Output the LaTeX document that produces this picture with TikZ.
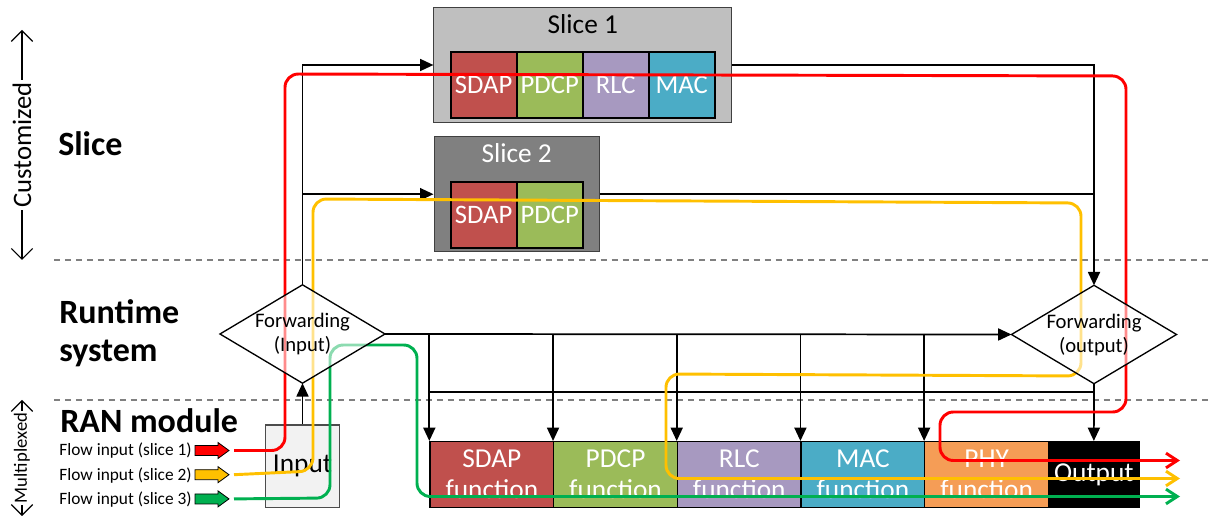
\documentclass[tikz,border=0pt]{standalone}
\usepackage{fontspec}
\setmainfont{Carlito}
\usetikzlibrary{arrows.meta,shapes.geometric}
\pgfdeclarelayer{back}
\pgfdeclarelayer{flows}
\pgfsetlayers{back,flows,main}
\definecolor{sdapred}{HTML}{C0504D}
\definecolor{pdcpgreen}{HTML}{9BBB59}
\definecolor{rlcpurple}{HTML}{A799C0}
\definecolor{macblue}{HTML}{4BACC6}
\definecolor{phyorange}{HTML}{F59D56}
\definecolor{flowred}{HTML}{FF0000}
\definecolor{floworange}{HTML}{FFC000}
\definecolor{flowgreen}{HTML}{00B050}

\begin{document}
\begin{tikzpicture}[x=0.75pt,y=-0.75pt,
  laylabel/.style={anchor=base west,inner sep=0pt,align=left,
    font=\fontsize{25.5}{28.5}\selectfont\bfseries},
  sideword/.style={rotate=90,fill=white,inner xsep=1.5pt,inner ysep=0pt},
  spanarrow/.style={line width=0.8pt,
    {Straight Barb[length=8pt,width=16pt]}-{Straight Barb[length=8pt,width=16pt]}},
  sepline/.style={gray,line width=2.2pt,dash pattern=on 4.5pt off 3.7pt},
  slicebox/.style={draw=black!75,line width=0.8pt,minimum height=86.5pt,inner sep=0pt},
  slicetitle/.style={anchor=north,inner sep=0pt,yshift=-5.5pt,
    font=\fontsize{20.5}{24}\selectfont},
  block/.style={draw,line width=1.2pt,minimum size=49.5pt,inner sep=0pt,
    text=white,font=\fontsize{20}{24}\selectfont},
  func/.style={draw,line width=1pt,minimum width=92.8pt,minimum height=49.3pt,
    inner sep=0pt,text=white,align=center,font=\fontsize{20.5}{23.3}\selectfont},
  fwd/.style={diamond,draw,line width=1pt,fill=white,fill opacity=0.55,
    text opacity=1,aspect=1.7,inner sep=-4pt,outer sep=0pt,
    minimum width=123.75pt,minimum height=73.8pt,align=center,
    font=\fontsize{15.5}{18}\selectfont},
  conn/.style={line width=1.3pt,-{Triangle[length=10pt,width=9pt]}},
  wire/.style={line width=1.3pt},
  flowline/.style={line width=2.2pt,rounded corners=10pt,
    -{Straight Barb[length=8.5pt,width=11pt]}},
  flowtext/.style={anchor=base east,inner sep=0pt,font=\fontsize{13}{15}\selectfont},
]
\useasboundingbox (0,0) rectangle (1210,516);

% layer names on the left
\node[laylabel] (lslice) at (58,156) {Slice};
\node[laylabel] (lruntime) at (59,362) {Runtime\\system};
\node[laylabel] (lran) at (60,432) {RAN module};
\draw[spanarrow] (22,30) -- (22,260)
  node[sideword,midway,font=\fontsize{20}{24}\selectfont] {Customized};
\draw[spanarrow] (22,400) -- (22,516)
  node[sideword,midway,font=\fontsize{14}{17}\selectfont] {Multiplexed};

\begin{pgfonlayer}{back}
  \draw[sepline] (54,260) -- (1210,260);
  \draw[sepline] (54,400) -- (1210,400);
  % slices
  \node[slicebox,fill=black!25,minimum width=223.3pt,
    label={[slicetitle]north:Slice 1}] (slice1) at (582.8,65) {};
  \node[slicebox,fill=black!50,minimum width=124pt,
    label={[slicetitle,text=white]north:Slice 2}] (slice2) at (516.7,194.2) {};
  \foreach \n/\c [count=\i from 0] in {SDAP/sdapred,PDCP/pdcpgreen,RLC/rlcpurple,MAC/macblue}
    \node[block,fill=\c] (s1\n) at ({483.7+66*\i},85.3) {\n};
  \foreach \n/\c [count=\i from 0] in {SDAP/sdapred,PDCP/pdcpgreen}
    \node[block,fill=\c] (s2\n) at ({483.7+66*\i},215) {\n};
  % RAN module
  \node[draw=black!70,line width=1pt,fill=black!5,minimum width=55.7pt,
    minimum height=62pt,inner sep=0pt,font=\fontsize{20.5}{24}\selectfont]
    (inbox) at (302.5,466.3) {Input};
  \foreach \n/\c [count=\i from 0] in {SDAP/sdapred,PDCP/pdcpgreen,RLC/rlcpurple,MAC/macblue,PHY/phyorange}
    \node[func,fill=\c] (f\n) at ({491.85+123.7*\i},474.5) {\n\\function};
  \node[func,fill=black,minimum width=68.25pt] (outbox) at (1093.8,474.5) {Output};
\end{pgfonlayer}

% runtime system
\node[fwd] (fwdin) at (302.5,334) {Forwarding\\(Input)};
\node[fwd] (fwdout) at (1094,334.5) {Forwarding\\(output)};

\begin{pgfonlayer}{back}
  \draw[conn] (fwdin.north) |- (slice1.west);
  \draw[conn] (fwdin.north) |- (slice2.west);
  \draw[conn] (slice1.east) -| (fwdout.north);
  \draw[wire] (slice2.east) -- (slice2.east -| fwdout.north);
  \draw[conn] (inbox) -- (fwdin);
  \draw[conn] (fwdin.east) -- (fwdout.west);
  \foreach \n in {SDAP,PDCP,RLC,MAC,PHY}
    \draw[conn] (f\n.north west |- fwdin.east) -- (f\n.north west);
  \coordinate (bus) at (fSDAP.north west |- 0,392);
  \draw[wire] (bus) -- (bus -| fwdout.south);
  \draw[conn] (fwdout) -- (outbox);
\end{pgfonlayer}

% flow inputs
\foreach \i/\y/\c in {1/450.5/flowred,2/474.7/floworange,3/498.9/flowgreen}{
  \node[flowtext] (flow\i) at (192,\y+5.3) {Flow input (slice \i)};
  \filldraw[fill=\c,line width=0.6pt] (195,\y-5) -- (218,\y-5) -- (218,\y-8)
    -- (229,\y) -- (218,\y+8) -- (218,\y+5) -- (195,\y+5) -- cycle;
  \coordinate (in\i) at (234,\y);
  \coordinate (out\i) at (1180,442.5+18*\i);
}

% paths of the three flows
\begin{pgfonlayer}{flows}
  \draw[flowline,flowred] (in1) -- (285,450.5) -- (285,74) -- (1126,76)
    -- (1126,412) -- (940,412) -- (940,460.5) -- (out1);
  \draw[flowline,floworange] (in2) -- (313,471) -- (313,199) -- (1081,203)
    -- (1081,376) -- (666,374) -- (666,478.5) -- (out2);
  \draw[flowline,flowgreen] (in3) -- (330,498) -- (330,345) -- (417,345)
    -- (417,496.5) -- (out3);
\end{pgfonlayer}
\end{tikzpicture}
\end{document}
